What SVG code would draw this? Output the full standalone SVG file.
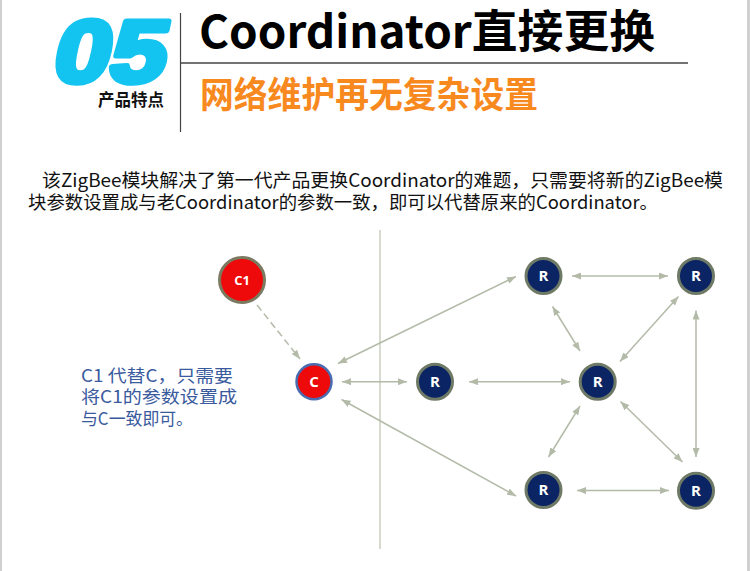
<svg xmlns="http://www.w3.org/2000/svg" width="750" height="571" viewBox="0 0 750 571">
<defs>
<style>
.cn{font-family:"Noto Sans CJK SC","Noto Sans",sans-serif}
.edge{stroke:#b3bba8;stroke-width:1.5;fill:none}
.rn{fill:#0b2463;stroke:#6f7a66;stroke-width:3}
.lbl{font-family:"Open Sans","Noto Sans",sans-serif;font-weight:bold;fill:#ffffff;text-anchor:middle}
</style>
<marker id="ah" viewBox="0 0 10 10" refX="10" refY="5" markerWidth="9" markerHeight="7" markerUnits="userSpaceOnUse" orient="auto-start-reverse" preserveAspectRatio="none">
<path d="M0,0 L10,5 L0,10 Z" fill="#b3bba8"/>
</marker>
</defs>
<rect x="0" y="0" width="750" height="571" fill="#ffffff"/>
<rect x="0" y="0" width="2" height="571" fill="#d0d0d0"/>
<rect x="747" y="0" width="3" height="571" fill="#d0d0d0"/>

<g id="header">
<text transform="translate(50,82) skewX(-12)" x="0" y="0" font-family="Liberation Sans, Arial, sans-serif" font-weight="bold" font-size="88" fill="#13c3f0" stroke="#13c3f0" stroke-width="6" stroke-linejoin="round" textLength="112" lengthAdjust="spacingAndGlyphs">05</text>
<text x="98" y="106" class="cn" font-weight="bold" font-size="16.5" fill="#111">产品特点</text>
<line x1="180.5" y1="13" x2="180.5" y2="132" stroke="#444" stroke-width="1.2"/>
<line x1="180" y1="63" x2="688" y2="63" stroke="#444" stroke-width="1.5"/>
<text x="199" y="48" class="cn" font-weight="bold" font-size="45" fill="#000" textLength="456" lengthAdjust="spacingAndGlyphs">Coordinator直接更换</text>
<text x="200" y="108" class="cn" font-weight="bold" font-size="36" fill="#f7891e" textLength="338" lengthAdjust="spacingAndGlyphs">网络维护再无复杂设置</text>
</g>

<g id="intro">
<text x="42" y="187" class="cn" font-size="18.5" fill="#111" textLength="681" lengthAdjust="spacingAndGlyphs">该ZigBee模块解决了第一代产品更换Coordinator的难题，只需要将新的ZigBee模</text>
<text x="28" y="209" class="cn" font-size="18.5" fill="#111" textLength="630" lengthAdjust="spacingAndGlyphs">块参数设置成与老Coordinator的参数一致，即可以代替原来的Coordinator。</text>
</g>

<g id="note">
<text class="cn" font-size="17.5" fill="#3a5a9e">
<tspan x="81" y="381.5" textLength="152" lengthAdjust="spacingAndGlyphs">C1 代替C，只需要</tspan>
<tspan x="81" y="403" textLength="156" lengthAdjust="spacingAndGlyphs">将C1的参数设置成</tspan>
<tspan x="81" y="424.5" textLength="112" lengthAdjust="spacingAndGlyphs">与C一致即可。</tspan>
</text>
</g>

<g id="divider">
<line x1="380" y1="230" x2="380" y2="549" stroke="#c9cebf" stroke-width="1.5"/>
</g>

<g id="connectors">
<line class="edge" x1="257" y1="305" x2="300" y2="359" stroke="#a9b29c" stroke-dasharray="7,4" marker-end="url(#ah)"/>
<line class="edge" x1="342" y1="381.7" x2="407" y2="381.7" marker-start="url(#ah)" marker-end="url(#ah)"/>
<line class="edge" x1="469" y1="381.7" x2="570" y2="381.7" marker-start="url(#ah)" marker-end="url(#ah)"/>
<line class="edge" x1="338" y1="363.5" x2="516" y2="276.5" marker-start="url(#ah)" marker-end="url(#ah)"/>
<line class="edge" x1="341.5" y1="399.5" x2="516" y2="496" marker-start="url(#ah)" marker-end="url(#ah)"/>
<line class="edge" x1="572" y1="276" x2="668" y2="276" marker-start="url(#ah)" marker-end="url(#ah)"/>
<line class="edge" x1="552.5" y1="306.5" x2="580" y2="351" marker-start="url(#ah)" marker-end="url(#ah)"/>
<line class="edge" x1="678.5" y1="296.5" x2="620" y2="361.5" marker-start="url(#ah)" marker-end="url(#ah)"/>
<line class="edge" x1="696" y1="310.5" x2="696" y2="457" marker-start="url(#ah)" marker-end="url(#ah)"/>
<line class="edge" x1="580" y1="406" x2="548.5" y2="457" marker-start="url(#ah)" marker-end="url(#ah)"/>
<line class="edge" x1="620.5" y1="401.5" x2="682.5" y2="462" marker-start="url(#ah)" marker-end="url(#ah)"/>
<line class="edge" x1="577" y1="490.5" x2="669" y2="490.5" marker-start="url(#ah)" marker-end="url(#ah)"/>
</g>

<g id="node-C1">
<circle cx="242" cy="280" r="22.5" fill="#ee0a0a" stroke="#7b7b62" stroke-width="3"/>
<text x="242" y="284.5" class="lbl" font-size="13">C1</text>
</g>
<g id="node-C">
<circle cx="314" cy="381.7" r="17.5" fill="#ee0a0a" stroke="#4a6cb0" stroke-width="2.5"/>
<text x="314" y="387" class="lbl" font-size="15">C</text>
</g>
<g id="node-R1">
<circle cx="435" cy="381.7" r="17.5" class="rn"/>
<text x="435" y="387" class="lbl" font-size="15">R</text>
</g>
<g id="node-R2">
<circle cx="543.5" cy="276" r="17.5" class="rn"/>
<text x="543.5" y="281.3" class="lbl" font-size="15">R</text>
</g>
<g id="node-R3">
<circle cx="696" cy="276" r="17.5" class="rn"/>
<text x="696" y="281.3" class="lbl" font-size="15">R</text>
</g>
<g id="node-R4">
<circle cx="597.7" cy="381.7" r="17.5" class="rn"/>
<text x="597.7" y="387" class="lbl" font-size="15">R</text>
</g>
<g id="node-R5">
<circle cx="543.5" cy="490" r="17.5" class="rn"/>
<text x="543.5" y="495.3" class="lbl" font-size="15">R</text>
</g>
<g id="node-R6">
<circle cx="696" cy="490.7" r="17.5" class="rn"/>
<text x="696" y="496" class="lbl" font-size="15">R</text>
</g>
</svg>
